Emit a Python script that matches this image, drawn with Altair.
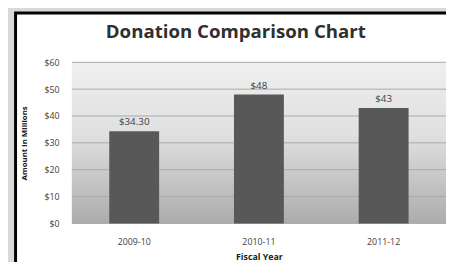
import altair as alt
import pandas as pd

years = ["2009-10", "2010-11", "2011-12"]
amounts = [34.3, 48, 43]
value_labels = ["$34.30", "$48", "$43"]
ticks = [0, 10, 20, 30, 40, 50, 60]
title_text = "Donation Comparison Chart"

W, H = 381, 164
FONT = "Open Sans"

bars_df = pd.DataFrame({"year": years, "amount": amounts, "label": value_labels})
ticks_df = pd.DataFrame({"t": ticks})
one = pd.DataFrame({"a": [0]})

yscale = alt.Scale(domain=[0, 60], nice=False)
xscale = alt.Scale(paddingInner=0.6, paddingOuter=0.3)

yaxis = alt.Axis(
    title="Amount in Millions", values=ticks, tickCount=7, labelExpr="'$' + datum.value",
    labelOverlap=False,
    domain=False, ticks=False, grid=False, labelPadding=13, titlePadding=16,
    labelFontSize=9, titleFontSize=8, labelColor="#404040", titleColor="#202020",
    titleFontWeight="bold", labelFont=FONT, titleFont=FONT, zindex=2,
)
xaxis = alt.Axis(
    title="Fiscal Year", labelAngle=0, domain=False, ticks=False,
    labelPadding=14, titlePadding=7, labelFontSize=9, titleFontSize=9,
    labelColor="#404040", titleColor="#202020", titleFontWeight="bold",
    labelFont=FONT, titleFont=FONT, zindex=2,
)

panel = alt.Chart(one).mark_rect(fill="white", stroke="black", strokeWidth=3).encode(
    x=alt.value(-57.3), x2=alt.value(W + 40), y=alt.value(-50.3), y2=alt.value(H + 80)
)

grad = alt.Chart(one).mark_rect(
    color=alt.Gradient(
        gradient="linear", x1=0, y1=0, x2=0, y2=1,
        stops=[
            alt.GradientStop(offset=0, color="#efefef"),
            alt.GradientStop(offset=0.45, color="#e0e0e0"),
            alt.GradientStop(offset=1, color="#acacac"),
        ],
    )
).encode(x=alt.value(0), x2=alt.value(W), y=alt.value(0), y2=alt.value(H))

grid = alt.Chart(ticks_df).mark_rule(color="#a9a9a9", strokeWidth=1).encode(
    y=alt.Y("t:Q", scale=yscale, axis=yaxis), x=alt.value(0), x2=alt.value(W)
)

bars = alt.Chart(bars_df).mark_bar(color="#585858").encode(
    x=alt.X("year:N", scale=xscale, sort=years, axis=xaxis),
    y=alt.Y("amount:Q", scale=yscale, axis=yaxis),
)

texts = alt.Chart(bars_df).mark_text(
    baseline="bottom", dy=-4, fontSize=10, color="#404040", font=FONT
).encode(
    x=alt.X("year:N", scale=xscale, sort=years, axis=xaxis),
    y=alt.Y("amount:Q", scale=yscale, axis=yaxis),
    text="label:N",
)

title = alt.Chart(pd.DataFrame({"t": [title_text]})).mark_text(
    fontSize=19, fontWeight="bold", color="#303030", font=FONT, baseline="middle"
).encode(x=alt.value(167), y=alt.value(-31), text="t:N")

chart = alt.layer(panel, grad, grid, bars, texts, title).properties(
    width=W, height=H,
    autosize=alt.AutoSizeParams(type="none"),
    padding={"left": 65, "top": 53, "right": 0, "bottom": 37},
    background="#d9d9d9",
).configure_view(stroke=None)

chart.save("out.html", embed_options={"renderer": "svg", "actions": False})
